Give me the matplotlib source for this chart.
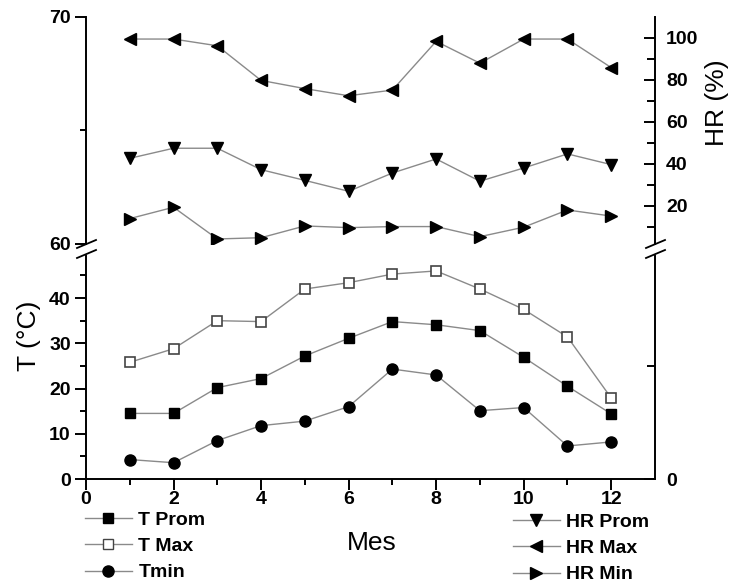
import matplotlib
matplotlib.use("Agg")
import matplotlib.pyplot as plt
from matplotlib.lines import Line2D
from matplotlib.ticker import FixedLocator

plt.rcParams['font.family'] = ['Liberation Sans', 'DejaVu Sans']

meses = [1, 2, 3, 4, 5, 6, 7, 8, 9, 10, 11, 12]

t_prom = [14.5, 14.5, 20.2, 22.2, 27.2, 31.1, 34.8, 34.1, 32.8, 26.9, 20.5, 14.4]
t_max = [25.8, 28.8, 35.0, 34.8, 42.0, 43.4, 45.3, 46.0, 42.0, 37.5, 31.4, 17.9]
t_min = [4.3, 3.6, 8.5, 11.8, 12.8, 16.0, 24.3, 23.0, 15.1, 15.8, 7.3, 8.2]

hr_prom = [42.7, 47.5, 47.5, 37.3, 32.2, 27.0, 35.7, 42.4, 31.8, 38.1, 44.8, 39.7]
hr_max = [99.5, 99.5, 96.3, 79.8, 75.9, 72.5, 75.2, 98.4, 88.0, 99.5, 99.5, 85.9]
hr_min = [14.0, 19.4, 4.3, 4.9, 10.5, 9.7, 10.2, 10.2, 5.4, 9.9, 18.1, 15.2]

W, H = 729, 583
LINE = '#8a8a8a'
TICK_SIZE = 14


def px(x, y):
    return x / W, 1 - y / H


def styleAxis(ax, side):
    for s in ['top', 'bottom', 'left', 'right']:
        ax.spines[s].set_visible(False)
    for s in side:
        ax.spines[s].set_visible(True)
        ax.spines[s].set_linewidth(1.4)


fig = plt.figure(figsize=(W / 100, H / 100), dpi=100)

x0, _ = px(86, 0)
x1, _ = px(655, 0)
_, yt = px(0, 17)
_, yb = px(0, 244)
ax_top = fig.add_axes([x0, yb, x1 - x0, yt - yb])
_, yt2 = px(0, 256)
_, yb2 = px(0, 479)
ax_bot = fig.add_axes([x0, yb2, x1 - x0, yt2 - yb2])

# bottom panel: temperatures
ax_bot.plot(meses, t_max, color=LINE, lw=1, marker='s', ms=7,
            mfc='white', mec='#444444', mew=1.2)
ax_bot.plot(meses, t_prom, color=LINE, lw=1, marker='s', ms=7,
            mfc='black', mec='black')
ax_bot.plot(meses, t_min, color=LINE, lw=1, marker='o', ms=8,
            mfc='black', mec='black')
ax_bot.set_xlim(0, 13)
ax_bot.set_ylim(0, 49.3)
styleAxis(ax_bot, ['left', 'bottom'])
ax_bot.xaxis.set_major_locator(FixedLocator([0, 2, 4, 6, 8, 10, 12]))
ax_bot.xaxis.set_minor_locator(FixedLocator([1, 3, 5, 7, 9, 11]))
ax_bot.yaxis.set_major_locator(FixedLocator([0, 10, 20, 30, 40]))
ax_bot.yaxis.set_minor_locator(FixedLocator([5, 15, 25, 35, 45]))
ax_bot.tick_params(which='major', direction='out', length=8, width=1.4,
                   labelsize=TICK_SIZE, pad=3)
ax_bot.tick_params(which='minor', direction='out', length=4.5, width=1.4)
ax_bot.tick_params(axis='x', which='major', pad=1)

ax_bot_r = ax_bot.twinx()
ax_bot_r.set_ylim(0, 49.3)
styleAxis(ax_bot_r, ['right'])
ax_bot_r.yaxis.set_major_locator(FixedLocator([0]))
ax_bot_r.yaxis.set_minor_locator(FixedLocator([25]))
ax_bot_r.tick_params(which='major', direction='in', length=8, width=1.4,
                     labelsize=TICK_SIZE, pad=8)
ax_bot_r.tick_params(which='minor', direction='in', length=6, width=1.4)

# top panel: humedad relativa
ax_top.set_xlim(0, 13)
ax_top.set_ylim(60, 70)
styleAxis(ax_top, ['left'])
ax_top.set_xticks([])
ax_top.yaxis.set_major_locator(FixedLocator([60, 70]))
ax_top.yaxis.set_minor_locator(FixedLocator([65]))
ax_top.tick_params(which='major', direction='out', length=8, width=1.4,
                   labelsize=TICK_SIZE, pad=3)
ax_top.tick_params(which='minor', direction='out', length=4.5, width=1.4)

ax_top_r = ax_top.twinx()
ax_top_r.plot(meses, hr_max, color=LINE, lw=1, marker='<', ms=9,
              mfc='black', mec='black')
ax_top_r.plot(meses, hr_prom, color=LINE, lw=1, marker='v', ms=9,
              mfc='black', mec='black')
ax_top_r.plot(meses, hr_min, color=LINE, lw=1, marker='>', ms=9,
              mfc='black', mec='black')
ax_top_r.set_ylim(1.9, 110)
styleAxis(ax_top_r, ['right'])
ax_top_r.yaxis.set_major_locator(FixedLocator([20, 40, 60, 80, 100]))
ax_top_r.yaxis.set_minor_locator(FixedLocator([10, 30, 50, 70, 90]))
ax_top_r.tick_params(which='major', direction='in', length=8, width=1.4,
                     labelsize=TICK_SIZE, pad=8)
ax_top_r.tick_params(which='minor', direction='in', length=6, width=1.4)

for ax in [ax_top, ax_bot, ax_top_r, ax_bot_r]:
    for lab in ax.get_xticklabels() + ax.get_yticklabels():
        lab.set_fontweight('bold')

# axis labels
fig.text(*px(29, 336), 'T (°C)', rotation=90, fontsize=19,
         ha='center', va='center')
fig.text(*px(717, 103), 'HR (%)', rotation=90, fontsize=19,
         ha='center', va='center')
fig.text(*px(372, 543), 'Mes', fontsize=19, ha='center', va='center')

# axis break marks
for bx in [86, 655]:
    for by in [248, 258]:
        xa, ya = px(bx - 9, by)
        xb, yb_ = px(bx + 10, by - 8)
        fig.add_artist(Line2D([xa, xb], [ya, yb_], color='black', lw=1.3))

# legends
handles_t = [
    Line2D([], [], color=LINE, lw=1, marker='s', ms=7, mfc='black', mec='black'),
    Line2D([], [], color=LINE, lw=1, marker='s', ms=7, mfc='white', mec='#444444'),
    Line2D([], [], color=LINE, lw=1, marker='o', ms=8, mfc='black', mec='black'),
]
handles_hr = [
    Line2D([], [], color=LINE, lw=1, marker='v', ms=9, mfc='black', mec='black'),
    Line2D([], [], color=LINE, lw=1, marker='<', ms=9, mfc='black', mec='black'),
    Line2D([], [], color=LINE, lw=1, marker='>', ms=9, mfc='black', mec='black'),
]
leg_props = dict(frameon=False, loc='upper left', borderpad=0, borderaxespad=0,
                 handlelength=2.4, handletextpad=0.35, labelspacing=0.45,
                 prop={'weight': 'bold', 'size': 14})
fig.legend(handles_t, ['T Prom', 'T Max', 'Tmin'],
           bbox_to_anchor=px(85, 511), **leg_props)
fig.legend(handles_hr, ['HR Prom', 'HR Max', 'HR Min'],
           bbox_to_anchor=px(513, 513), **leg_props)

fig.savefig('out.png', dpi=100)
